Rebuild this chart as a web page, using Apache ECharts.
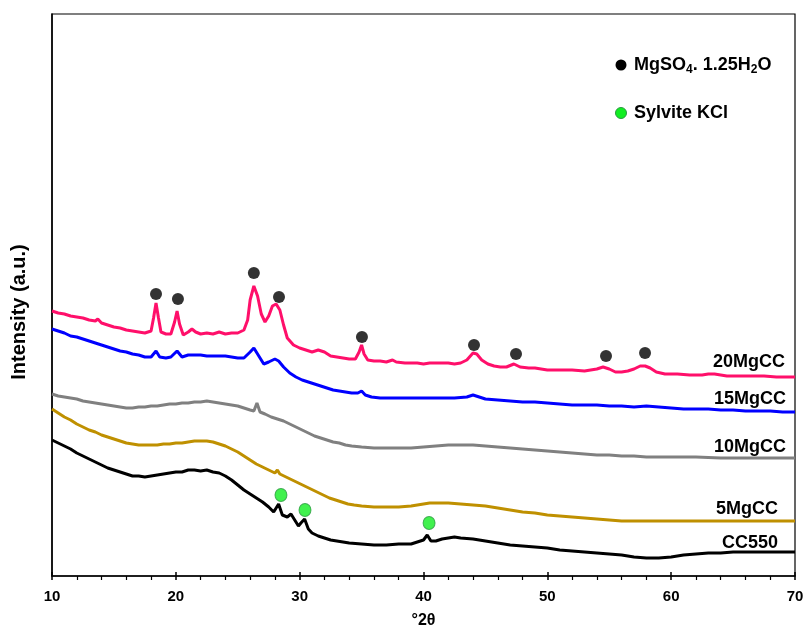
<!DOCTYPE html>
<html><head><meta charset="utf-8">
<script src="https://cdn.jsdelivr.net/npm/echarts@6/dist/echarts.min.js"></script>
<style>html,body{margin:0;padding:0;background:#fff;overflow:hidden}#c{width:100vw;height:100vh}</style>
</head><body><div id="c"></div>
<script>
// 2θ tick labels
const xTicks = [10, 20, 30, 40, 50, 60, 70];
const seriesNames = ['20MgCC', '15MgCC', '10MgCC', '5MgCC', 'CC550'];
const seriesColors = ['#ff0f6a', '#0000ff', '#808080', '#bf9000', '#000000'];

// [2θ, intensity (a.u., stacked offsets as plotted)]
const s20MgCC = [[10,265],[10.5,263],[11,262],[11.5,260],[12,259],[12.5,258],[13,256],[13.5,255],[13.7,257],[14,253],[14.5,251],[15,249],[15.5,248],[16,246],[16.5,245],[17,244],[17.5,243],[18,245],[18.2,258],[18.4,273],[18.6,258],[18.8,244],[19.2,242],[19.6,242],[19.9,254],[20.1,265],[20.3,252],[20.6,241],[21,244],[21.3,247],[21.6,244],[22,242],[22.5,243],[23,242],[23.5,244],[24,242],[24.5,243],[25,243],[25.5,246],[25.8,256],[26,276],[26.3,290],[26.6,280],[26.9,262],[27.2,254],[27.5,260],[27.8,270],[28.1,272],[28.4,266],[28.7,251],[29,238],[29.5,231],[30,228],[30.5,226],[31,224],[31.5,226],[32,224],[32.5,220],[33,219],[33.5,218],[34,217],[34.5,217],[34.8,224],[35,231],[35.2,222],[35.5,216],[36,215],[36.5,215],[37,214],[37.5,216],[37.8,214],[38.5,213],[39,213],[39.5,213],[40,212],[40.5,213],[41,213],[41.5,213],[42,213],[42.5,212],[43,213],[43.5,216],[44,223],[44.3,222],[44.7,216],[45.2,212],[45.7,210],[46.2,209],[46.7,209],[47.3,212],[47.8,209],[48.5,208],[49,208],[50,206],[51,206],[52,206],[53,205],[54,207],[54.5,209],[55,207],[55.5,204],[56,204],[56.5,205],[57,207],[57.5,210],[57.9,210],[58.3,208],[58.8,204],[59.5,202],[60.5,202],[61.5,201],[62.5,201],[63,202],[63.5,202],[64.5,200],[65.5,200],[66.5,200],[67.5,200],[68.5,199],[70,199]];
const s15MgCC = [[10,247],[10.5,245],[11,243],[11.5,240],[12,239],[12.5,237],[13,235],[13.5,233],[14,231],[14.5,229],[15,227],[15.5,225],[16,224],[16.5,222],[17,221],[17.5,219],[18,219],[18.4,225],[18.7,219],[19.2,218],[19.6,219],[20.1,225],[20.5,219],[21,221],[21.5,221],[22,221],[22.5,220],[23,220],[23.5,220],[24,220],[24.5,219],[25,218],[25.5,218],[26,224],[26.3,228],[26.7,220],[27.1,212],[27.5,214],[28,217],[28.3,215],[28.7,209],[29.2,203],[29.7,199],[30.2,196],[30.7,194],[31.2,192],[31.7,190],[32.2,188],[32.7,186],[33.2,185],[33.7,184],[34.2,183],[34.7,183],[35,185],[35.3,181],[35.8,179],[36.5,178],[37.5,178],[38.5,178],[39.5,178],[40.5,178],[41.5,178],[42.5,178],[43.5,179],[44,181],[44.5,179],[45,177],[46,176],[47,175],[48,174],[49,174],[50,173],[51,172],[52,171],[53,171],[54,171],[55,170],[56,170],[57,169],[58,170],[59,169],[60,168],[61,167],[62,167],[63,167],[64,166],[65,166],[66,165],[67,165],[68,165],[69,164],[70,164]];
const s10MgCC = [[10,182],[10.5,180],[11,179],[11.5,178],[12,177],[12.5,175],[13,174],[13.5,173],[14,172],[14.5,171],[15,170],[15.5,169],[16,168],[16.5,168],[17,169],[17.5,169],[18,170],[18.5,170],[19,171],[19.5,172],[20,172],[20.5,173],[21,173],[21.5,174],[22,174],[22.5,175],[23,174],[23.5,173],[24,172],[24.5,171],[25,170],[25.5,168],[26,166],[26.3,165],[26.55,173],[26.8,164],[27.2,162],[27.7,159],[28.2,157],[28.7,155],[29.2,152],[29.7,149],[30.2,146],[30.7,143],[31.2,140],[31.7,138],[32.2,136],[32.7,134],[33.2,133],[33.7,131],[34.2,130],[35,129],[36,128],[37,128],[38,128],[39,128],[40,129],[41,130],[42,131],[43,131],[44,131],[45,130],[46,129],[47,128],[48,127],[49,126],[50,125],[51,124],[52,123],[53,122],[54,121],[55,121],[56,120],[57,120],[58,119],[59,119],[60,119],[62,119],[64,118],[66,118],[68,118],[70,118]];
const s5MgCC = [[10,167],[10.5,163],[11,159],[11.5,156],[12,152],[12.5,149],[13,146],[13.5,144],[14,141],[14.5,139],[15,137],[15.5,135],[16,133],[16.5,132],[17,131],[17.5,131],[18,131],[18.5,131],[19,132],[19.5,132],[20,133],[20.5,133],[21,134],[21.5,135],[22,135],[22.5,135],[23,134],[23.5,132],[24,130],[24.5,127],[25,124],[25.5,120],[26,116],[26.5,112],[27,109],[27.5,106],[28,103],[28.2,106],[28.4,102],[28.9,99],[29.4,96],[29.9,93],[30.4,90],[30.9,87],[31.4,84],[31.9,81],[32.4,78],[32.9,76],[33.4,74],[33.9,72],[34.4,71],[35,70],[36,69],[37,69],[38,69],[39,70],[39.5,71],[40,72],[40.5,73],[41,73],[42,73],[43,72],[44,71],[45,70],[46,68],[47,66],[48,64],[49,63],[50,61],[51,60],[52,59],[53,58],[54,57],[55,56],[56,55],[57,55],[58,55],[60,55],[62,55],[64,55],[66,55],[68,55],[70,55]];
const sCC550 = [[10,136],[10.5,133],[11,130],[11.5,127],[12,123],[12.5,120],[13,117],[13.5,114],[14,111],[14.5,108],[15,106],[15.5,104],[16,102],[16.5,100],[17,100],[17.5,99],[18,100],[18.5,101],[19,102],[19.5,103],[20,104],[20.5,104],[21,106],[21.5,106],[22,105],[22.5,106],[23,104],[23.5,103],[24,100],[24.5,96],[25,91],[25.5,86],[26,82],[26.5,78],[27,74],[27.5,69],[27.9,64],[28.3,72],[28.6,61],[29,59],[29.3,62],[29.6,56],[29.9,50],[30.1,53],[30.4,57],[30.7,47],[31,43],[31.5,40],[32,38],[32.5,36],[33,35],[33.5,34],[34,33],[35,32],[36,31],[37,31],[38,32],[39,32],[39.5,34],[40,36],[40.3,41],[40.6,35],[41,35],[41.5,37],[42,38],[42.5,39],[43,38],[44,37],[45,35],[46,33],[47,31],[48,30],[49,29],[50,28],[51,26],[52,25],[53,24],[54,23],[55,22],[56,21],[57,19],[58,18],[59,18],[60,19],[61,21],[62,22],[63,23],[64,23],[65,24],[66,24],[67,24],[68,24],[69,24],[70,24]];

// phase markers [2θ, marker height]
const mgso4Peaks = [[18.4,282],[20.17,277],[26.3,303],[28.33,279],[35.03,239],[44.08,231],[47.47,222],[54.74,220],[57.89,223]];
const kclPeaks = [[28.49,81],[30.43,66],[40.45,53]];

const FONT = 'Arial, "Liberation Sans", sans-serif';
const chart = echarts.init(document.getElementById('c'));
const curves = [s20MgCC, s15MgCC, s10MgCC, s5MgCC, sCC550];
const lineSeries = curves.map((d, i) => ({
  name: seriesNames[i], type: 'line', data: d, showSymbol: false, smooth: false,
  lineStyle: { color: seriesColors[i], width: 3 }, z: 2, silent: true
}));
chart.setOption({
  animation: false,
  backgroundColor: '#fff',
  grid: { left: 52, top: 14, width: 743, height: 562, containLabel: false, outerBoundsMode: 'none',
    show: true, borderColor: '#000', borderWidth: 1.2 },
  xAxis: [{
    type: 'value', min: 10, max: 70, interval: 10,
    name: '°2θ', nameLocation: 'middle', nameGap: 37,
    nameTextStyle: { fontFamily: FONT, fontWeight: 'bold', fontSize: 16, color: '#000' },
    axisLine: { lineStyle: { color: '#000', width: 1.5 } },
    axisTick: { show: true, inside: false, length: 4, lineStyle: { color: '#000', width: 1.5 } },
    minorTick: { show: true, splitNumber: 5, length: 4, lineStyle: { color: '#000', width: 1.2 } },
    axisLabel: { fontFamily: FONT, fontWeight: 'bold', fontSize: 15, color: '#000', margin: 13,
      formatter: v => xTicks.includes(v) ? String(v) : '' },
    splitLine: { show: false }
  }, {
    type: 'value', min: 10, max: 70, interval: 10, position: 'bottom', gridIndex: 0,
    axisLine: { show: false },
    axisTick: { show: true, inside: true, length: 4, lineStyle: { color: '#000', width: 1.5 } },
    axisLabel: { show: false }, splitLine: { show: false }
  }],
  yAxis: {
    type: 'value', min: 0, max: 562,
    axisLine: { show: true, lineStyle: { color: '#000', width: 1.5 } },
    axisTick: { show: false }, axisLabel: { show: false }, splitLine: { show: false }
  },
  series: [
    ...lineSeries,
    { name: 'MgSO4', type: 'scatter', data: mgso4Peaks, symbol: 'circle', symbolSize: 12,
      itemStyle: { color: '#000' }, z: 5, silent: true },
    { name: 'KCl', type: 'scatter', data: kclPeaks, symbol: 'circle', symbolSize: [12, 13],
      itemStyle: { color: '#11ee22', borderColor: '#2a9a40', borderWidth: 1 }, z: 5, silent: true }
  ],
  graphic: [
    { type: 'text', x: 19, y: 312, rotation: Math.PI / 2, style: { text: 'Intensity (a.u.)',
      font: 'bold 20px ' + FONT, fill: '#000', align: 'center', verticalAlign: 'middle' } },
    { type: 'circle', shape: { cx: 621, cy: 65, r: 5.5 }, style: { fill: '#000' } },
    { type: 'text', left: 634, top: 56, style: {
      text: '{b|MgSO}{s|4}{b|. 1.25H}{s|2}{b|O}',
      rich: { b: { fontFamily: FONT, fontWeight: 'bold', fontSize: 18, fill: '#000' },
              s: { fontFamily: FONT, fontWeight: 'bold', fontSize: 12, fill: '#000', padding: [10, 0, 0, 0] } } } },
    { type: 'circle', shape: { cx: 621, cy: 113, r: 5.5 }, style: { fill: '#11ee22', stroke: '#2a9a40', lineWidth: 1 } },
    { type: 'text', left: 634, top: 104, style: { text: 'Sylvite KCl', font: 'bold 18px ' + FONT, fill: '#000' } },
    { type: 'text', left: 713, top: 353, style: { text: seriesNames[0], font: 'bold 18px ' + FONT, fill: '#000' } },
    { type: 'text', left: 714, top: 390, style: { text: seriesNames[1], font: 'bold 18px ' + FONT, fill: '#000' } },
    { type: 'text', left: 714, top: 438, style: { text: seriesNames[2], font: 'bold 18px ' + FONT, fill: '#000' } },
    { type: 'text', left: 716, top: 500, style: { text: seriesNames[3], font: 'bold 18px ' + FONT, fill: '#000' } },
    { type: 'text', left: 722, top: 534, style: { text: seriesNames[4], font: 'bold 18px ' + FONT, fill: '#000' } }
  ]
});
</script></body></html>
